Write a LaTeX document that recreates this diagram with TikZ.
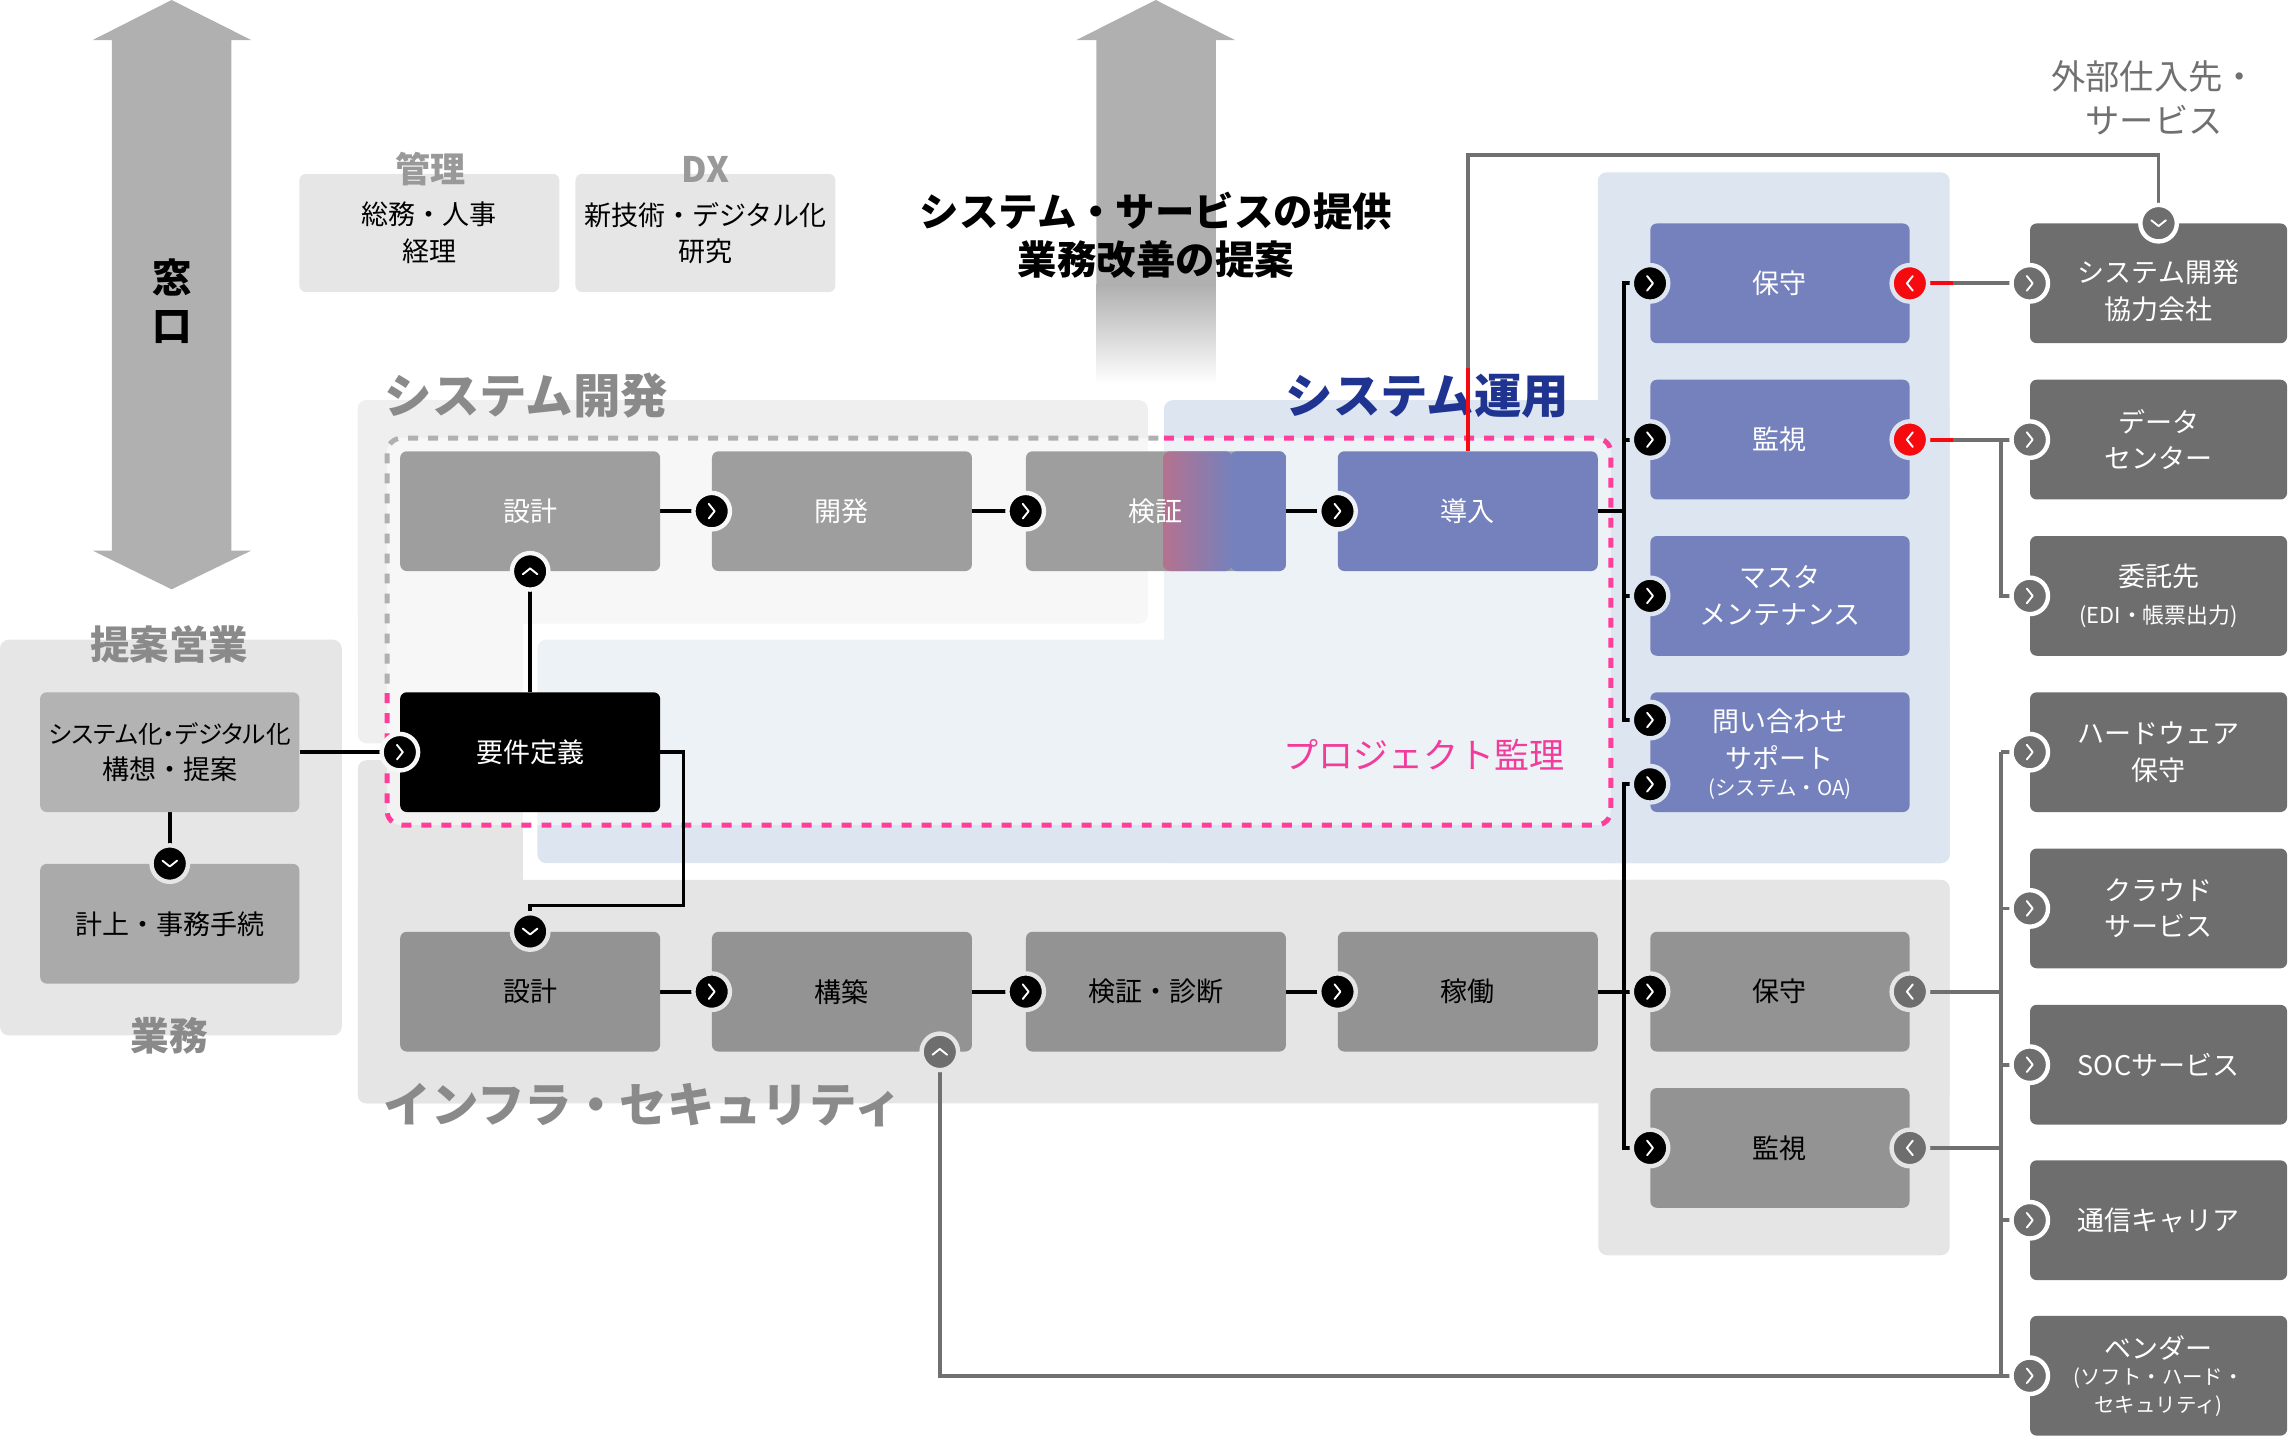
\documentclass[tikz,border=0pt]{standalone}
\usepackage{fontspec}
\setmainfont{Noto Sans CJK JP}
\usetikzlibrary{calc}
\definecolor{cArrow}{HTML}{B0B0B0}
\definecolor{cLight}{HTML}{E6E6E6}
\definecolor{cTitle}{HTML}{8A8A8A}
\definecolor{cTitleS}{HTML}{999999}
\definecolor{cDev}{HTML}{9E9E9E}
\definecolor{cInf}{HTML}{939393}
\definecolor{cOps}{HTML}{7581BC}
\definecolor{cExt}{HTML}{6E6E6E}
\definecolor{cOpsP}{HTML}{DCE5F0}
\definecolor{cOpsIn}{HTML}{EEF2F8}
\definecolor{cDevP}{HTML}{EFEFEF}
\definecolor{cDevIn}{HTML}{F7F7F7}
\definecolor{cInfP}{HTML}{E5E5E5}
\definecolor{cLeftP}{HTML}{E6E6E6}
\definecolor{cS1}{HTML}{B3B3B3}
\definecolor{cS2}{HTML}{AAAAAA}
\definecolor{cPink}{HTML}{FF3D9A}
\definecolor{cPinkT}{HTML}{F23C9B}
\definecolor{cDashG}{HTML}{B0B0B0}
\definecolor{cG}{HTML}{707070}
\definecolor{cRed}{HTML}{F50A0F}
\definecolor{cNavy}{HTML}{1F3391}
\definecolor{cMauve}{HTML}{B4728F}
\pgfdeclarelayer{bg}\pgfdeclarelayer{mid}\pgfdeclarelayer{top}
\pgfsetlayers{bg,mid,main,top}
\newcommand\smallf{\fontsize{14}{17}\selectfont}
\newcommand\paltf{\addfontfeatures{RawFeature=+palt}\fontsize{16.8}{25}\selectfont}
\begin{document}
\begin{tikzpicture}[x=1pt,y=-1pt,
  box/.style={rounded corners=4.5pt, minimum width=178pt, minimum height=82pt, inner sep=0pt, align=center, font=\fontsize{18.5}{25}\selectfont},
  devbox/.style={box, fill=cDev, text=white},
  infbox/.style={box, fill=cInf, text=black},
  opsbox/.style={box, minimum width=177.5pt, fill=cOps, text=white},
  extbox/.style={box, minimum width=176pt, fill=cExt, text=white},
  lbox/.style={box, fill=cLight, text=black, minimum height=81pt},
  bigtitle/.style={font=\bfseries\fontsize{32.5}{32.5}\selectfont},
  cc/.style 2 args={circle, fill=#1, draw=#2, line width=3pt, minimum size=25pt, inner sep=0pt, outer sep=0pt},
  chevline/.style={white, line width=1.3pt, line cap=round, line join=round},
  chevR/.style={path picture={\draw[chevline] ([xshift=-2pt,yshift=5pt]path picture bounding box.center) -- ++(4pt,-5pt) -- ++(-4pt,-5pt);}},
  chevL/.style={path picture={\draw[chevline] ([xshift=2pt,yshift=5pt]path picture bounding box.center) -- ++(-4pt,-5pt) -- ++(4pt,-5pt);}},
  chevD/.style={path picture={\draw[chevline] ([xshift=-5pt,yshift=2pt]path picture bounding box.center) -- ++(5pt,-4pt) -- ++(5pt,4pt);}},
  chevU/.style={path picture={\draw[chevline] ([xshift=-5pt,yshift=-2pt]path picture bounding box.center) -- ++(5pt,4pt) -- ++(5pt,-4pt);}},
  bline/.style={black, line width=2.6pt},
  gline/.style={cG, line width=2.6pt},
  rline/.style={cRed, line width=2.6pt},
  pdash/.style={line width=3.4pt, dash pattern=on 6.8pt off 6.9pt, rounded corners=10pt},
  kensho/.style={path picture={
    \fill[cOps] ([xshift=140pt]path picture bounding box.south west) rectangle (path picture bounding box.north east);
    \shade[left color=cMauve, right color=cOps] ([xshift=94pt]path picture bounding box.south west) rectangle ([xshift=141pt]path picture bounding box.north west);}}
]
\useasboundingbox (0,0) rectangle (1568,983.3);

% ---------- background panels and arrows ----------
\begin{pgfonlayer}{bg}
\fill[cArrow] (117.5,0) -- (172,27.4) -- (158.4,27.4) -- (158.4,377) -- (172,377) -- (117.5,403.5) -- (63.5,377) -- (76.6,377) -- (76.6,27.4) -- (63.5,27.4) -- cycle;
\fill[cArrow] (791.4,0) -- (845.5,27.4) -- (832.6,27.4) -- (832.6,195.5) -- (750.7,195.5) -- (750.7,27.4) -- (737,27.4) -- cycle;
\shade[top color=cArrow, bottom color=white] (750.7,195) rectangle (832.6,263);
\fill[cLeftP, rounded corners=6pt] (0,438) rectangle (234,709);
\fill[cDevP, rounded corners=6pt] (245,274) rectangle (786,427);
\fill[cDevP, rounded corners=6pt] (245,274) rectangle (358,509);
\fill[cOpsP, rounded corners=6pt] (797,274) rectangle (1335,591);
\fill[cOpsP, rounded corners=6pt] (1094,118) rectangle (1335,591);
\fill[cOpsP, rounded corners=6pt] (368,438) rectangle (1335,591);
\fill[cInfP, rounded corners=6pt] (245,602.5) rectangle (1335,755.5);
\fill[cInfP, rounded corners=6pt] (245,520.5) rectangle (358,755.5);
\fill[cInfP, rounded corners=6pt] (1094.5,602.5) rectangle (1335,859.5);
\fill[white, opacity=0.5, rounded corners=10pt] (265,300) rectangle (1103,565);
\draw[pdash, cDashG] (265,468) -- (265,300) -- (797,300);
\draw[pdash, cPink] (797,300) -- (1103,300) -- (1103,565) -- (265,565) -- (265,468);
\end{pgfonlayer}

% ---------- top texts ----------
\node[font=\bfseries\fontsize{27}{33}\selectfont, align=center] (madoguchi) at (118,206) {窓\\口};
\node[font=\bfseries\fontsize{27}{33}\selectfont, align=center] (teikyo) at (791.5,161) {システム・サービスの提供\\業務改善の提案};
\node[lbox] (kanri) at (294,159.5) {総務・人事\\経理};
\node[lbox] (dx) at (483,159.5) {新技術・デジタル化\\研究};
\node[text=cTitleS, font=\bfseries\fontsize{24}{24}\selectfont] (kanriT) at (294.5,116) {管理};
\node[text=cTitleS, font=\bfseries\fontsize{24}{24}\selectfont] (dxT) at (483,116) {DX};
\node[text=cG, align=center, font=\fontsize{23.5}{30}\selectfont] (gaibu) at (1475,67) {外部仕入先・\\サービス};

% ---------- left column ----------
\node[text=cTitle, font=\bfseries\fontsize{27}{27}\selectfont] (teianT) at (116,441) {提案営業};
\node[box, minimum width=177.5pt, fill=cS1, text=black] (s1) at (116.25,515) {\paltf システム化・デジタル化\\構想・提案};
\node[box, minimum width=177.5pt, fill=cS2, text=black] (s2) at (116.25,632.5) {計上・事務手続};
\node[text=cTitle, font=\bfseries\fontsize{26.5}{26.5}\selectfont] (gyomuT) at (116,709) {業務};

% ---------- titles ----------
\node[bigtitle, text=cTitle] (devT) at (360.5,271) {システム開発};
\node[bigtitle, text=cNavy] (opsT) at (977.5,271) {システム運用};
\node[bigtitle, text=cTitle] (infT) at (440,757) {インフラ・セキュリティ};
\node[text=cPinkT, font=\fontsize{24}{24}\selectfont] (pm) at (975,517) {プロジェクト監理};

% ---------- process boxes ----------
\node[devbox] (d1) at (363,350) {設計};
\node[devbox] (d2) at (576.5,350) {開発};
\node[devbox, kensho] (d3) at (791.5,350) {検証};
\node[opsbox, minimum width=178pt] (d4) at (1005,350) {導入};
\node[box, fill=black, text=white] (req) at (363,515) {要件定義};
\node[infbox] (i1) at (363,679) {設計};
\node[infbox] (i2) at (576.5,679) {構築};
\node[infbox] (i3) at (791.5,679) {検証・診断};
\node[infbox] (i4) at (1005,679) {稼働};

\node[opsbox] (o1) at (1218.75,194) {保守};
\node[opsbox] (o2) at (1218.75,301) {監視};
\node[opsbox] (o3) at (1218.75,408) {マスタ\\メンテナンス};
\node[opsbox] (o4) at (1218.75,515) {\raisebox{-3pt}[\height][\depth]{\begin{tabular}{@{}c@{}}問い合わせ\\サポート\\[-6pt]\smallf (システム・OA)\end{tabular}}};
\node[infbox, minimum width=177.5pt] (o5) at (1218.75,679) {保守};
\node[infbox, minimum width=177.5pt] (o6) at (1218.75,786) {監視};

\node[extbox] (e1) at (1478,194) {\raisebox{-7pt}[\height][\depth]{\begin{tabular}{@{}c@{}}システム開発\\協力会社\end{tabular}}};
\node[extbox] (e2) at (1478,301) {データ\\センター};
\node[extbox] (e3) at (1478,408) {委託先\\\fontsize{15}{17}\selectfont (EDI・帳票出力)};
\node[extbox] (e4) at (1478,515) {ハードウェア\\保守};
\node[extbox] (e5) at (1478,622) {クラウド\\サービス};
\node[extbox] (e6) at (1478,729) {SOCサービス};
\node[extbox] (e7) at (1478,835.5) {通信キャリア};
\node[extbox] (e8) at (1478,942) {ベンダー\\[-7pt]\smallf (ソフト・ハード・\\[-6pt]\smallf セキュリティ)};

% ---------- connector circles ----------
\node[cc={black}{cLeftP}, chevD] (c_s2) at (s2.north) {};
\node[cc={black}{cDevIn}, chevR] (c_req) at (req.west) {};
\node[cc={black}{cDevIn}, chevU] (c_d1) at (d1.south) {};
\node[cc={black}{cDevIn}, chevR] (c_d2) at (d2.west) {};
\node[cc={black}{cDevIn}, chevR] (c_d3) at (d3.west) {};
\node[cc={black}{cOpsIn}, chevR] (c_d4) at (d4.west) {};
\node[cc={black}{cInfP}, chevD] (c_i1) at (i1.north) {};
\node[cc={black}{cInfP}, chevR] (c_i2) at (i2.west) {};
\node[cc={black}{cInfP}, chevR] (c_i3) at (i3.west) {};
\node[cc={black}{cInfP}, chevR] (c_i4) at (i4.west) {};
\node[cc={cExt}{cInfP}, chevU] (c_i2b) at ([xshift=67pt]i2.south) {};
\node[cc={black}{cOpsP}, chevR] (c_o1) at (o1.west) {};
\node[cc={black}{cOpsP}, chevR] (c_o2) at (o2.west) {};
\node[cc={black}{cOpsP}, chevR] (c_o3) at (o3.west) {};
\node[cc={black}{cOpsP}, chevR] (c_o4a) at ([yshift=22pt]o4.west) {};
\node[cc={black}{cOpsP}, chevR] (c_o4b) at ([yshift=-22pt]o4.west) {};
\node[cc={black}{cInfP}, chevR] (c_o5) at (o5.west) {};
\node[cc={black}{cInfP}, chevR] (c_o6) at (o6.west) {};
\node[cc={cRed}{cOpsP}, chevL] (r_o1) at (o1.east) {};
\node[cc={cRed}{cOpsP}, chevL] (r_o2) at (o2.east) {};
\node[cc={cExt}{cInfP}, chevL] (g_o5) at (o5.east) {};
\node[cc={cExt}{cInfP}, chevL] (g_o6) at (o6.east) {};
\node[cc={cExt}{white}, chevD] (c_e1t) at (e1.north) {};
\foreach \k in {1,...,8} {\node[cc={cExt}{white}, chevR] (c_e\k) at (e\k.west) {};}

% ---------- connectors ----------
\coordinate (jr) at (468,620);
\coordinate (jo) at (1112,350);
\coordinate (ji) at (1112,679);
\coordinate (gtop) at (0,106);
\coordinate (rx) at (1337,0);
\coordinate (jx) at (1370,0);
\begin{pgfonlayer}{mid}
\draw[bline] (s1.south) -- (c_s2);
\draw[bline] (s1.east) -- (c_req);
\draw[bline] (req.north) -- (c_d1);
\draw[bline] (req.east) -| (jr) -| (c_i1);
\draw[bline] (d1.east) -- (c_d2);
\draw[bline] (d2.east) -- (c_d3);
\draw[bline] (d3.east) -- (c_d4);
\draw[bline] (i1.east) -- (c_i2);
\draw[bline] (i2.east) -- (c_i3);
\draw[bline] (i3.east) -- (c_i4);
\draw[bline] (d4.east) -- (jo);
\draw[bline] (c_o1.center) -- (c_o1 -| jo) -- (c_o4a -| jo) -- (c_o4a.center);
\draw[bline] (c_o2 -| jo) -- (c_o2);
\draw[bline] (c_o3 -| jo) -- (c_o3);
\draw[bline] (i4.east) -- (ji);
\draw[bline] (c_o4b.center) -- (c_o4b -| ji) -- (c_o6 -| ji) -- (c_o6.center);
\draw[bline] (ji) -- (c_o5);
\draw[gline] (d4.north) -- (d4.north |- gtop) -| (c_e1t);
\draw[gline] (r_o1) -- (c_e1);
\draw[gline] (r_o2) -- (c_e2);
\draw[rline] (r_o1.center) -- (r_o1 -| rx);
\draw[rline] (r_o2.center) -- (r_o2 -| rx);
\draw[gline] (c_e2 -| jx) -- (c_e3 -| jx) -- (c_e3);
\draw[gline] (g_o5) -- (g_o5 -| jx);
\draw[gline] (g_o6) -- (g_o6 -| jx);
\draw[gline] (c_e4 -| jx) -- (c_e8 -| jx);
\foreach \k in {4,...,7} {\draw[gline] (c_e\k -| jx) -- (c_e\k);}
\draw[gline] (c_i2b) -- (c_i2b |- c_e8) -- (c_e8);
\end{pgfonlayer}
\begin{pgfonlayer}{top}
\draw[rline] (d4.north) -- ++(0,-57);
\end{pgfonlayer}
\end{tikzpicture}
\end{document}
